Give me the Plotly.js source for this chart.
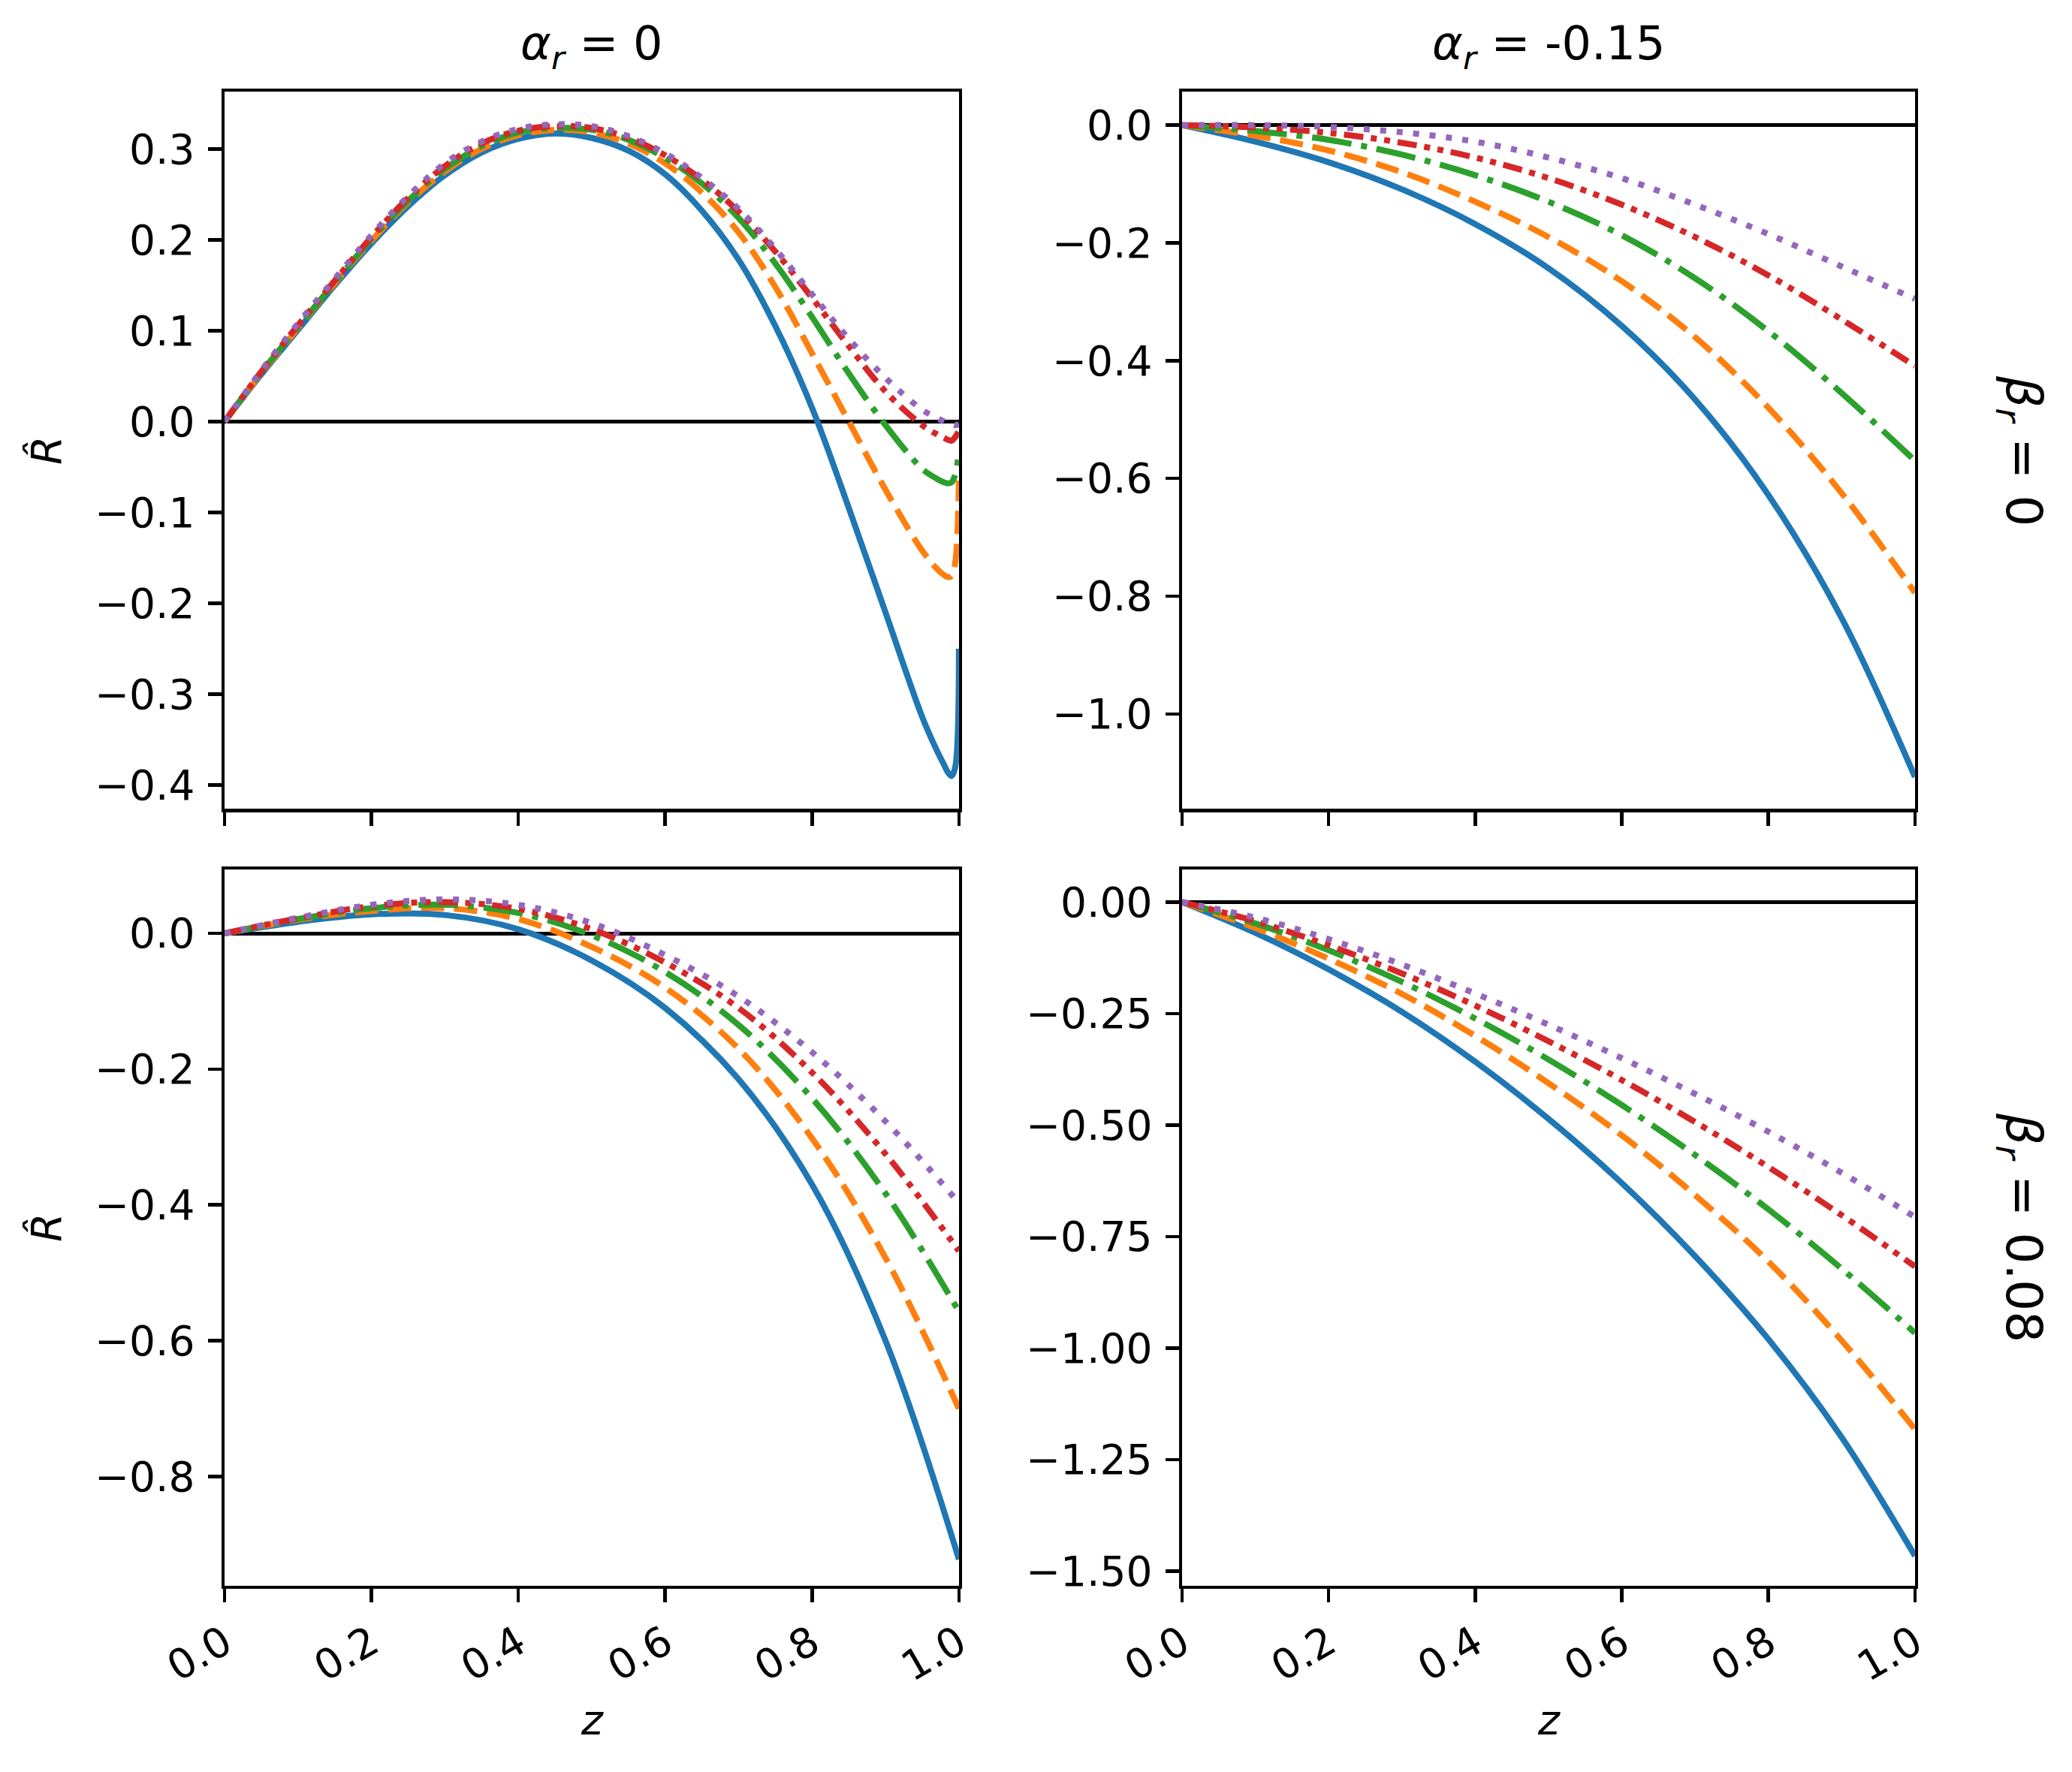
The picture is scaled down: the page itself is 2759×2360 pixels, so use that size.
<!DOCTYPE html>
<html>
<head>
<meta charset="utf-8">
<script src="https://cdn.plot.ly/plotly-3.0.1.min.js"></script>
<style>html,body{margin:0;padding:0;background:#fff;}</style>
</head>
<body>
<div id="chart" style="width:2759px;height:2360px;"></div>
<script>
// ---------- data ----------
// alpha_r = 0, beta_r = 0
const zTopLeft = [0, 0.05, 0.1, 0.15, 0.2, 0.25, 0.3, 0.35, 0.4, 0.45, 0.5, 0.55, 0.6, 0.65, 0.7, 0.75, 0.8, 0.85, 0.9, 0.95, 0.97, 0.98, 0.985, 0.99, 0.995, 1.0];
const tl_s1 = [0, 0.052, 0.101, 0.150, 0.196, 0.237, 0.271, 0.296, 0.311, 0.317, 0.312, 0.298, 0.272, 0.232, 0.178, 0.105, 0.015, -0.095, -0.210, -0.325, -0.362, -0.378, -0.386, -0.390, -0.380, -0.250];
const tl_s2 = [0, 0.053, 0.103, 0.152, 0.199, 0.241, 0.275, 0.300, 0.315, 0.321, 0.318, 0.306, 0.284, 0.252, 0.208, 0.148, 0.075, 0.000, -0.075, -0.142, -0.162, -0.169, -0.171, -0.170, -0.155, -0.065];
const tl_s3 = [0, 0.054, 0.104, 0.153, 0.201, 0.243, 0.278, 0.303, 0.318, 0.323, 0.321, 0.310, 0.290, 0.262, 0.224, 0.174, 0.115, 0.053, -0.004, -0.052, -0.063, -0.067, -0.068, -0.067, -0.058, -0.035];
const tl_s4 = [0, 0.055, 0.106, 0.155, 0.203, 0.246, 0.281, 0.306, 0.320, 0.325, 0.323, 0.312, 0.293, 0.266, 0.231, 0.187, 0.136, 0.083, 0.033, -0.004, -0.014, -0.018, -0.020, -0.021, -0.017, -0.010];
const tl_s5 = [0, 0.056, 0.108, 0.157, 0.205, 0.248, 0.284, 0.308, 0.322, 0.327, 0.325, 0.314, 0.295, 0.268, 0.234, 0.190, 0.140, 0.091, 0.048, 0.013, 0.004, 0.000, -0.002, -0.003, -0.004, -0.003];

const zGrid = [0, 0.1, 0.2, 0.3, 0.4, 0.5, 0.6, 0.7, 0.8, 0.9, 1.0];
// alpha_r = -0.15, beta_r = 0
const tr_s1 = [0, -0.028, -0.063, -0.109, -0.168, -0.243, -0.341, -0.466, -0.628, -0.837, -1.107];
const tr_s2 = [0, -0.018, -0.043, -0.080, -0.130, -0.190, -0.265, -0.360, -0.480, -0.625, -0.794];
const tr_s3 = [0, -0.010, -0.025, -0.050, -0.085, -0.130, -0.187, -0.260, -0.350, -0.455, -0.570];
const tr_s4 = [0, -0.004, -0.013, -0.030, -0.055, -0.090, -0.135, -0.190, -0.255, -0.330, -0.409];
const tr_s5 = [0, 0.000, -0.003, -0.012, -0.028, -0.055, -0.090, -0.135, -0.185, -0.240, -0.295];
// alpha_r = 0, beta_r = 0.08
const bl_s1 = [0, 0.017, 0.028, 0.027, 0.006, -0.040, -0.110, -0.215, -0.370, -0.600, -0.922];
const bl_s2 = [0, 0.020, 0.033, 0.037, 0.021, -0.020, -0.080, -0.170, -0.302, -0.478, -0.700];
const bl_s3 = [0, 0.021, 0.037, 0.042, 0.030, -0.003, -0.057, -0.135, -0.243, -0.383, -0.557];
const bl_s4 = [0, 0.022, 0.040, 0.046, 0.036, 0.006, -0.043, -0.110, -0.205, -0.325, -0.468];
const bl_s5 = [0, 0.023, 0.042, 0.050, 0.042, 0.015, -0.032, -0.093, -0.175, -0.277, -0.397];
// alpha_r = -0.15, beta_r = 0.08
const br_s1 = [0, -0.069, -0.151, -0.246, -0.358, -0.486, -0.630, -0.794, -0.980, -1.200, -1.466];
const br_s2 = [0, -0.058, -0.127, -0.206, -0.300, -0.406, -0.523, -0.657, -0.806, -0.983, -1.182];
const br_s3 = [0, -0.048, -0.108, -0.179, -0.261, -0.353, -0.455, -0.567, -0.689, -0.822, -0.966];
const br_s4 = [0, -0.043, -0.097, -0.160, -0.232, -0.312, -0.399, -0.493, -0.594, -0.702, -0.817];
const br_s5 = [0, -0.035, -0.083, -0.140, -0.205, -0.275, -0.350, -0.430, -0.515, -0.607, -0.706];

const xTickVals = [0, 0.2, 0.4, 0.6, 0.8, 1.0];
const colTitles = ['<i>α</i><sub><i>r</i></sub> = 0', '<i>α</i><sub><i>r</i></sub> = -0.15'];
const rowTitles = ['<i>β</i><sub><i>r</i></sub> = 0', '<i>β</i><sub><i>r</i></sub> = 0.08'];
const yLabel = '<i>R̂</i>';
const xLabel = '<i>z</i>';

// ---------- styles ----------
const colors = ['#1f77b4', '#ff7f0e', '#2ca02c', '#d62728', '#9467bd'];
const dashes = ['solid', '31px,13px', '53px,13px,8px,13px', '26px,10px,8px,10px,8px,10px', '8px,14px'];
const LW = 8;
const FONT = 'DejaVu Sans';

const panels = [
  {x: zTopLeft, ys: [tl_s1, tl_s2, tl_s3, tl_s4, tl_s5], xa: 'x', ya: 'y'},
  {x: zGrid, ys: [tr_s1, tr_s2, tr_s3, tr_s4, tr_s5], xa: 'x2', ya: 'y2'},
  {x: zGrid, ys: [bl_s1, bl_s2, bl_s3, bl_s4, bl_s5], xa: 'x3', ya: 'y3'},
  {x: zGrid, ys: [br_s1, br_s2, br_s3, br_s4, br_s5], xa: 'x4', ya: 'y4'}
];

const traces = [];
panels.forEach(p => {
  p.ys.forEach((y, i) => {
    traces.push({
      type: 'scatter', mode: 'lines', x: p.x, y: y,
      xaxis: p.xa, yaxis: p.ya,
      line: {color: colors[i], width: LW, dash: dashes[i], shape: 'spline', smoothing: 1},
      hoverinfo: 'skip', showlegend: false
    });
  });
});

const xDomL = [0.1084, 0.4628], xDomR = [0.5705, 0.9242];
const yDomT = [0.5436, 0.9483], yDomB = [0.1051, 0.5093];

function xAxis(domain, anchor, labels) {
  return {
    domain: domain, anchor: anchor, range: [0, 1],
    tickmode: 'array', tickvals: xTickVals, tickformat: '.1f',
    showticklabels: labels, tickangle: -30,
    ticks: 'outside', ticklen: 18, tickwidth: 4.5, tickcolor: '#000',
    showline: true, linecolor: '#000', linewidth: 4.5, mirror: true,
    showgrid: false, zeroline: false,
    tickfont: {family: FONT, size: 55, color: '#000'}
  };
}
function yAxis(domain, anchor, range, dtick, fmt) {
  return {
    domain: domain, anchor: anchor, range: range,
    tick0: 0, dtick: dtick, tickformat: fmt,
    ticks: 'outside', ticklen: 18, tickwidth: 4.5, tickcolor: '#000',
    showline: true, linecolor: '#000', linewidth: 4.5, mirror: true,
    showgrid: false, zeroline: true, zerolinecolor: '#000', zerolinewidth: 5,
    ticklabelstandoff: 6,
    tickfont: {family: FONT, size: 55, color: '#000'}
  };
}

const ann = [];
function addAnn(text, x, y, size, angle) {
  ann.push({text: text, x: x, y: y, xref: 'paper', yref: 'paper',
    xanchor: 'center', yanchor: 'middle', showarrow: false, textangle: angle,
    font: {family: FONT, size: size, color: '#000'}});
}
const W = 2759, H = 2360;
addAnn(colTitles[0], 788 / W, 1 - 62 / H, 62, 0);
addAnn(colTitles[1], 2062 / W, 1 - 62 / H, 62, 0);
addAnn(rowTitles[0], 2690 / W, 1 - 600 / H, 66, 90);
addAnn(rowTitles[1], 2690 / W, 1 - 1635 / H, 66, 90);
addAnn(yLabel, 62 / W, 1 - 600 / H, 55, -90);
addAnn(yLabel, 62 / W, 1 - 1635 / H, 55, -90);
addAnn(xLabel, 788 / W, 1 - 2291 / H, 55, 0);
addAnn(xLabel, 2062 / W, 1 - 2291 / H, 55, 0);

const layout = {
  width: W, height: H,
  margin: {l: 0, r: 0, t: 0, b: 0},
  paper_bgcolor: '#fff', plot_bgcolor: '#fff',
  showlegend: false,
  font: {family: FONT, color: '#000'},
  xaxis: xAxis(xDomL, 'y', false),
  yaxis: yAxis(yDomT, 'x', [-0.426, 0.363], 0.1, '.1f'),
  xaxis2: xAxis(xDomR, 'y2', false),
  yaxis2: yAxis(yDomT, 'x2', [-1.161, 0.057], 0.2, '.1f'),
  xaxis3: xAxis(xDomL, 'y3', true),
  yaxis3: yAxis(yDomB, 'x3', [-0.961, 0.094], 0.2, '.1f'),
  xaxis4: xAxis(xDomR, 'y4', true),
  yaxis4: yAxis(yDomB, 'x4', [-1.533, 0.073], 0.25, '.2f'),
  annotations: ann
};

Plotly.newPlot('chart', traces, layout, {staticPlot: true, displayModeBar: false});
</script>
</body>
</html>
